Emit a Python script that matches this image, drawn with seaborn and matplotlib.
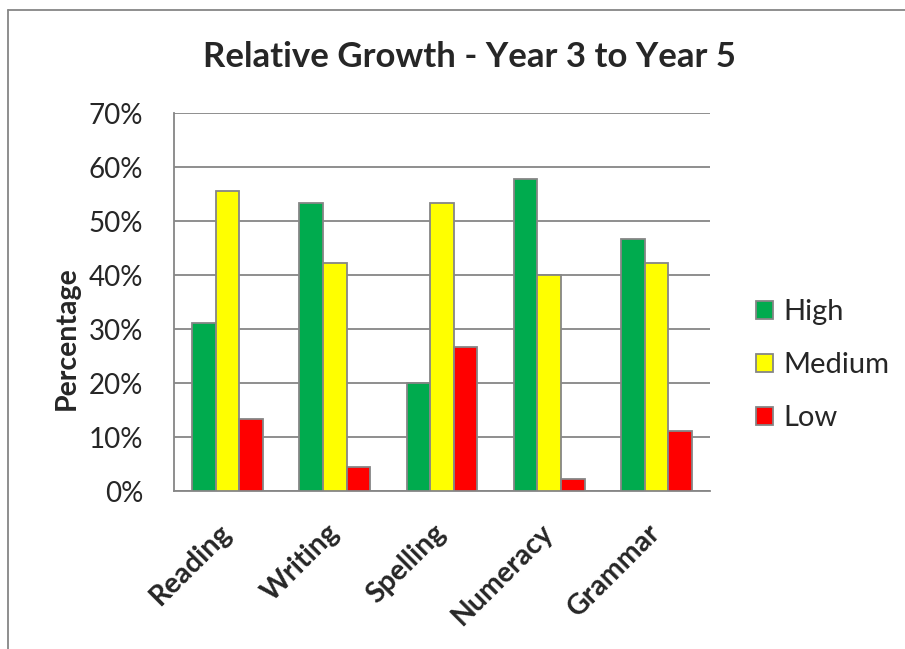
import matplotlib
matplotlib.use("Agg")
import matplotlib.pyplot as plt
import matplotlib.ticker as mticker
from matplotlib.lines import Line2D
import pandas as pd
import seaborn as sns

# === Chart data ===
subjects = ["Reading", "Writing", "Spelling", "Numeracy", "Grammar"]
levels = ["High", "Medium", "Low"]
high = [31.1, 53.3, 20.0, 57.8, 46.7]
medium = [55.6, 42.2, 53.3, 40.0, 42.2]
low = [13.3, 4.4, 26.7, 2.2, 11.1]
level_colors = ["#00AB4E", "#FFFF00", "#FF0000"]

df = pd.DataFrame({
    "Subject": subjects * 3,
    "Level": [lv for lv in levels for _ in subjects],
    "Value": [v / 100 for v in high + medium + low],
})

sns.set_style("white")
plt.rcParams["font.family"] = ["Lato", "DejaVu Sans"]

GRAY = "#868686"

fig = plt.figure(figsize=(9.05, 6.49), dpi=100)
ax = fig.add_axes([174 / 905, 1 - 491 / 649, 536 / 905, 378 / 649])

sns.barplot(
    data=df, x="Subject", y="Value", hue="Level",
    order=subjects, hue_order=levels, palette=level_colors,
    width=0.66, edgecolor=GRAY, linewidth=1.3, saturation=1,
    ax=ax, zorder=3,
)

ax.set_ylim(0, 0.70)
ax.yaxis.set_major_locator(mticker.MultipleLocator(0.10))
ax.yaxis.set_major_formatter(mticker.PercentFormatter(1.0, decimals=0))
ax.grid(axis="y", color=GRAY, linewidth=1.3, zorder=0)
ax.set_axisbelow(True)

for side in ["top", "right"]:
    ax.spines[side].set_visible(False)
for side in ["left", "bottom"]:
    ax.spines[side].set_color(GRAY)
    ax.spines[side].set_linewidth(1.3)

ax.tick_params(axis="y", length=0, labelsize=20, pad=22)
ax.tick_params(axis="x", length=0, labelsize=20.5, pad=27)
for lab in ax.get_xticklabels():
    lab.set_rotation(45)
    lab.set_ha("right")
    lab.set_va("center")
    lab.set_rotation_mode("anchor")
    lab.set_fontweight("bold")

ax.set_xlabel("")
ax.set_ylabel("Percentage", fontsize=20.5, fontweight="bold")
ax.yaxis.set_label_coords(-0.175, 0.405)

ax.set_title("Relative Growth - Year 3 to Year 5", fontsize=25,
             fontweight="bold", pad=33, x=0.552)

# legend
handles, labels = ax.get_legend_handles_labels()
ax.legend(
    handles, labels, loc="center left", bbox_to_anchor=(1.037, 0.333),
    frameon=False, fontsize=21, handlelength=0.58, handleheight=0.58,
    handletextpad=0.34, labelspacing=0.93,
)

# outer chart border (top and left only)
fig.add_artist(Line2D([8 / 905, 1], [1 - 10 / 649, 1 - 10 / 649],
                      color=GRAY, linewidth=1.3, transform=fig.transFigure))
fig.add_artist(Line2D([8 / 905, 8 / 905], [0, 1 - 10 / 649],
                      color=GRAY, linewidth=1.3, transform=fig.transFigure))

fig.savefig("out.png", dpi=100)
